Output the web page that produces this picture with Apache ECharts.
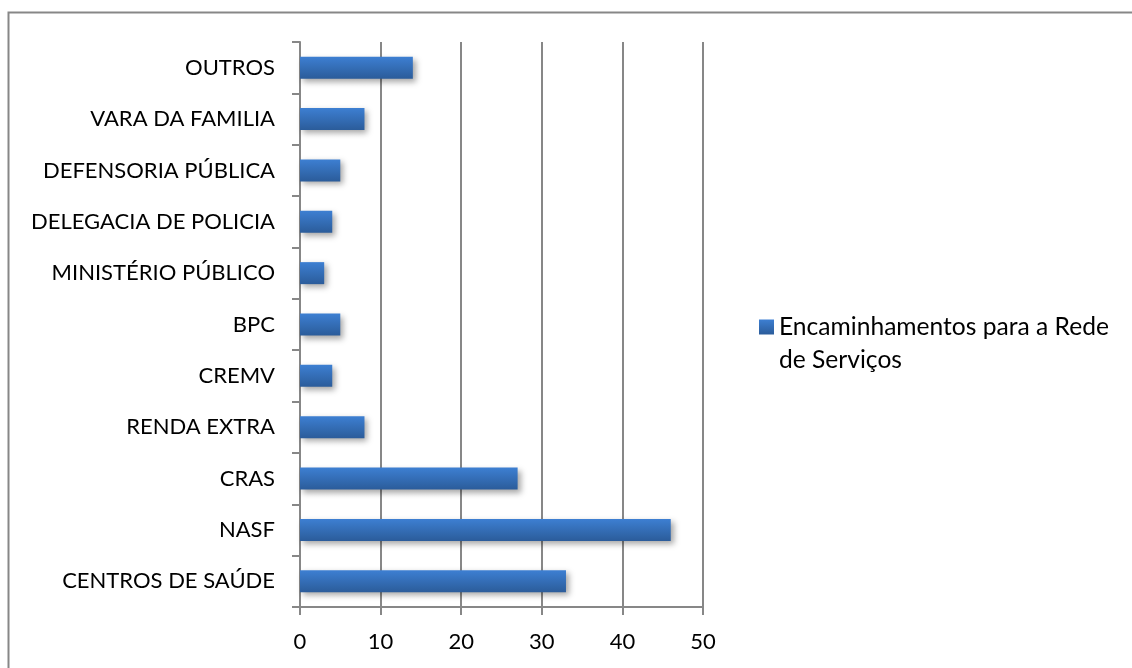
<!DOCTYPE html>
<html>
<head>
<meta charset="utf-8">
<title>Encaminhamentos para a Rede de Serviços</title>
<script src="https://cdn.jsdelivr.net/npm/echarts@6/dist/echarts.min.js"></script>
<style>
  html, body { margin: 0; padding: 0; background: #ffffff; }
  #chart { width: 1132px; height: 668px; }
</style>
</head>
<body>
<div id="chart"></div>
<script>
// Categories listed bottom to top, as the category axis draws them
const categories = [
  'CENTROS DE SAÚDE', 'NASF', 'CRAS', 'RENDA EXTRA', 'CREMV', 'BPC',
  'MINISTÉRIO PÚBLICO', 'DELEGACIA DE POLICIA', 'DEFENSORIA PÚBLICA',
  'VARA DA FAMILIA', 'OUTROS'
];
const values = [33, 46, 27, 8, 4, 5, 3, 4, 5, 8, 14];
const seriesName = 'Encaminhamentos para a Rede de Serviços';
const legendLines = ['Encaminhamentos para a Rede', 'de Serviços'];
const axisMax = 50;
const axisStep = 10;

const FONT = 'Lato, "Open Sans", sans-serif';
const GRAY = '#878787';
const LEGEND_LH = 33;
const LEGEND_ICON_Y = 327;

const chart = echarts.init(document.getElementById('chart'), null, { renderer: 'canvas' });

chart.setOption({
  backgroundColor: '#ffffff',
  animation: false,
  graphic: [{
    type: 'rect',
    shape: { x: 8.5, y: 12.5, width: 1200, height: 800 },
    style: { fill: 'none', stroke: GRAY, lineWidth: 2 },
    silent: true,
    z: -1
  }],
  grid: { left: 300, right: 429, top: 42, bottom: 61, containLabel: false },
  legend: {
    left: 759,
    // the label is middle-aligned on the icon; a leading blank line puts
    // the first visible line level with the icon and the second below it
    top: LEGEND_ICON_Y - LEGEND_LH * 1.5,
    padding: 0,
    itemWidth: 15,
    itemHeight: 15,
    itemGap: 0,
    icon: 'rect',
    data: [seriesName],
    formatter: () => '\n' + legendLines.join('\n'),
    textStyle: {
      fontFamily: FONT,
      fontSize: 24.6,
      color: '#000000',
      lineHeight: LEGEND_LH
    }
  },
  xAxis: {
    type: 'value',
    min: 0,
    max: axisMax,
    interval: axisStep,
    axisLine: { show: true, lineStyle: { color: GRAY, width: 2 } },
    axisTick: { show: true, length: 8, lineStyle: { color: GRAY, width: 2 } },
    splitLine: { show: true, lineStyle: { color: GRAY, width: 2 } },
    axisLabel: { margin: 24, fontFamily: FONT, fontSize: 22, color: '#000000' }
  },
  yAxis: {
    type: 'category',
    data: categories,
    boundaryGap: true,
    axisLine: { show: true, lineStyle: { color: GRAY, width: 2 } },
    axisTick: { show: true, length: 8, lineStyle: { color: GRAY, width: 2 } },
    axisLabel: { margin: 25, fontFamily: FONT, fontSize: 22, color: '#000000' }
  },
  series: [{
    name: seriesName,
    type: 'bar',
    data: values,
    barWidth: 22,
    itemStyle: {
      color: new echarts.graphic.LinearGradient(0, 0, 0, 1, [
        { offset: 0, color: '#3d7fd2' },
        { offset: 1, color: '#2b5c9a' }
      ]),
      shadowColor: 'rgba(0,0,0,0.35)',
      shadowBlur: 6,
      shadowOffsetX: 3,
      shadowOffsetY: 3
    }
  }]
});
</script>
</body>
</html>
